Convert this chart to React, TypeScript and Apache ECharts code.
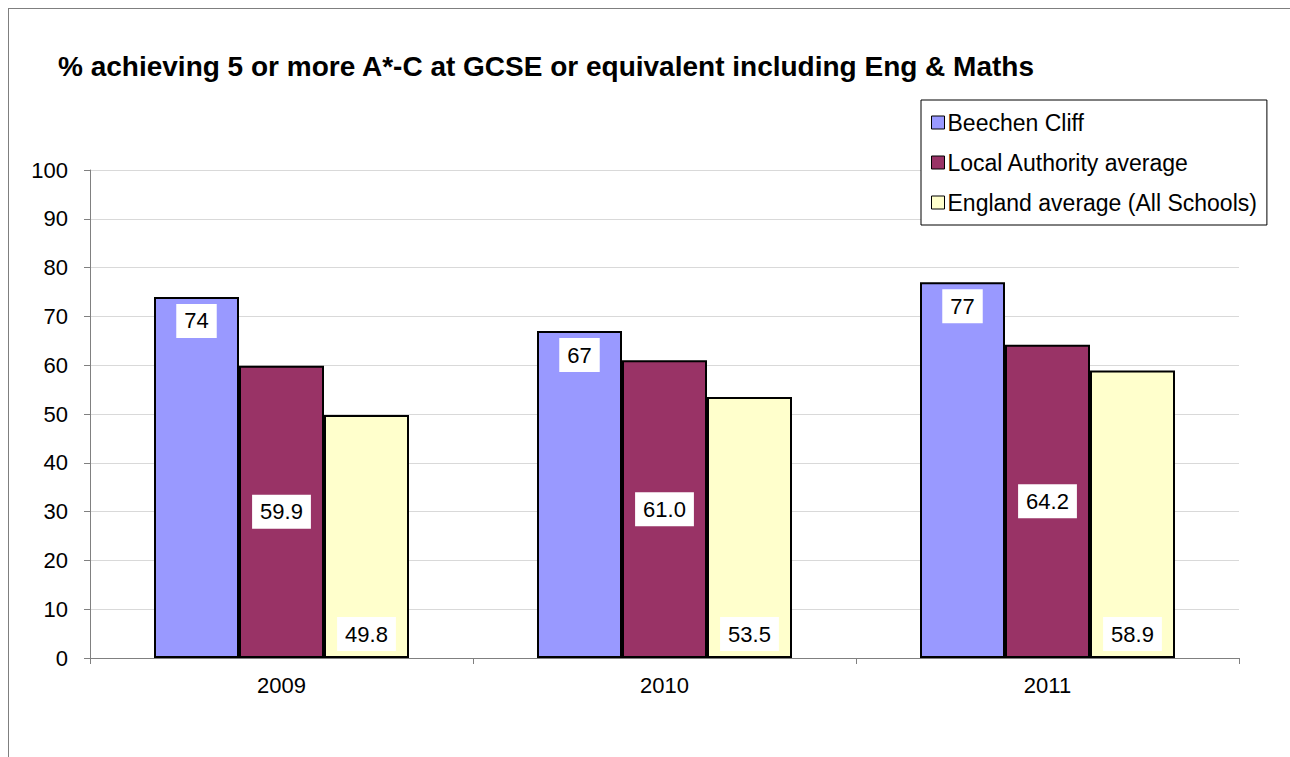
import React, { useEffect, useRef } from "react";
import * as echarts from "echarts";

const categories = ["2009", "2010", "2011"];
const seriesNames = ["Beechen Cliff", "Local Authority average", "England average (All Schools)"];
const beechenCliff = [74, 67, 77];
const localAuthority = [59.9, 61.0, 64.2];
const englandAverage = [49.8, 53.5, 58.9];
const yTicks = { min: 0, max: 100, interval: 10 };
const titleText = "% achieving 5 or more A*-C at GCSE or equivalent including Eng & Maths";

const FONT = "'Liberation Sans', Arial, sans-serif";

export default function App() {
  const ref = useRef<HTMLDivElement>(null);
  useEffect(() => {
    if (!ref.current) return;
    const chart = echarts.init(ref.current, undefined, { renderer: "svg" });
    const labelBase = {
      show: true,
      color: "#000",
      fontFamily: FONT,
      fontSize: 22,
      lineHeight: 22,
      backgroundColor: "#fff",
      padding: [6, 8, 6, 8],
    };
    const barStyle = (color: string) => ({ color, borderColor: "#000", borderWidth: 2 });
    chart.setOption({
      animation: false,
      backgroundColor: "#fff",
      textStyle: { fontFamily: FONT },
      title: {
        text: titleText,
        left: 49,
        top: 42,
        padding: 0,
        textStyle: { fontFamily: FONT, fontSize: 28, fontWeight: "bold", color: "#000", lineHeight: 30 },
      },
      legend: {
        orient: "vertical",
        left: 912,
        top: 91,
        padding: [11, 10, 11, 10],
        itemGap: 17,
        itemWidth: 13,
        itemHeight: 13,
        icon: "rect",
        borderColor: "#000",
        borderWidth: 1,
        backgroundColor: "#fff",
        itemStyle: { borderWidth: 1, borderColor: "#000" },
        textStyle: { fontFamily: FONT, fontSize: 23, color: "#000", lineHeight: 23, padding: [0, 0, 0, -2] },
        data: seriesNames,
      },
      grid: { left: 81, top: 161, right: 51, bottom: 99, containLabel: false },
      xAxis: {
        type: "category",
        data: categories,
        axisLine: { lineStyle: { color: "#808080", width: 1 } },
        axisTick: { show: true, length: 6, lineStyle: { color: "#808080" } },
        axisLabel: { color: "#000", fontFamily: FONT, fontSize: 22, margin: 16 },
      },
      yAxis: {
        type: "value",
        min: yTicks.min,
        max: yTicks.max,
        interval: yTicks.interval,
        axisLine: { show: true, lineStyle: { color: "#808080", width: 1 } },
        axisTick: { show: true, length: 6, lineStyle: { color: "#808080" } },
        axisLabel: { color: "#000", fontFamily: FONT, fontSize: 22, margin: 22 },
        splitLine: { lineStyle: { color: "#d9d9d9", width: 1 } },
      },
      series: [
        {
          name: seriesNames[0],
          type: "bar",
          data: beechenCliff,
          barWidth: 85,
          barGap: "0%",
          itemStyle: barStyle("#9999ff"),
          label: { ...labelBase, position: "insideTop", distance: 7, formatter: (p: any) => String(p.value) },
        },
        {
          name: seriesNames[1],
          type: "bar",
          data: localAuthority,
          barWidth: 85,
          barGap: "0%",
          itemStyle: barStyle("#993366"),
          label: { ...labelBase, position: "inside", formatter: (p: any) => Number(p.value).toFixed(1) },
        },
        {
          name: seriesNames[2],
          type: "bar",
          data: englandAverage,
          barWidth: 85,
          barGap: "0%",
          itemStyle: barStyle("#ffffcc"),
          label: { ...labelBase, position: "insideBottom", distance: 7, formatter: (p: any) => Number(p.value).toFixed(1) },
        },
      ],
    });
    return () => chart.dispose();
  }, []);
  return (
    <div
      style={{
        position: "fixed",
        left: 8,
        top: 8,
        width: 1282,
        height: 749,
        boxSizing: "border-box",
        borderTop: "1px solid #7f7f7f",
        borderLeft: "1px solid #7f7f7f",
        background: "#fff",
      }}
    >
      <div ref={ref} style={{ width: 1281, height: 748 }} />
    </div>
  );
}
